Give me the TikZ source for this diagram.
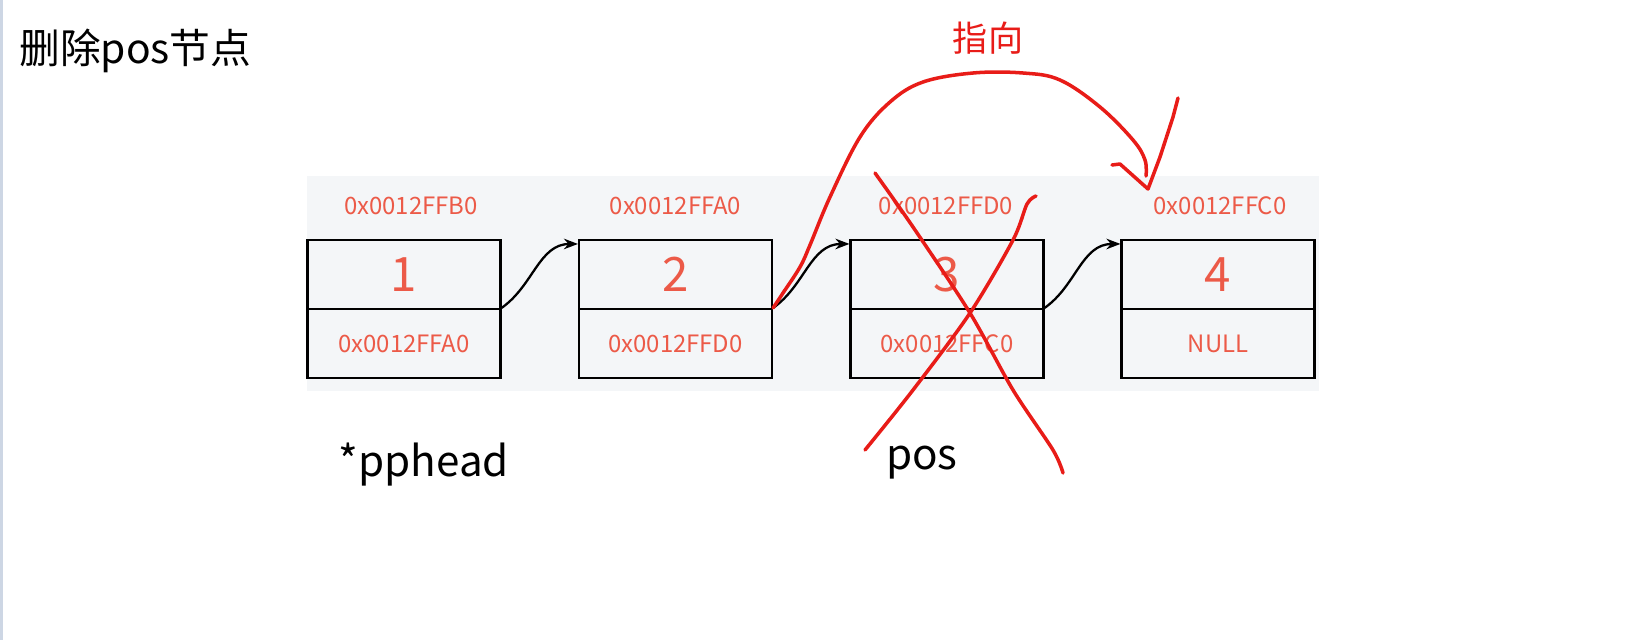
\documentclass[tikz,border=0pt]{standalone}
\usepackage{fontspec}
\setmainfont{Noto Sans CJK SC}
\usetikzlibrary{arrows.meta}
\definecolor{memred}{RGB}{236,90,72}
\definecolor{penred}{RGB}{232,28,24}
\definecolor{panelgray}{RGB}{244,246,248}
\definecolor{edgebar}{RGB}{205,214,228}
\begin{document}
\begin{tikzpicture}[x=0.02cm, y=-0.02cm, every node/.style={inner sep=0pt},
  cell/.style={draw=black, line width=1.2pt, minimum width=3.86cm, minimum height=1.38cm, text=memred},
  addr/.style={text=memred, font=\fontsize{13.6}{16}\selectfont},
  link/.style={-{Stealth[length=8pt,width=6pt]}, line width=1.3pt},
  pen/.style={penred, line width=2pt, line cap=round, line join=round}]
\useasboundingbox (0,0) rectangle (1645,640);
\fill[edgebar] (0,0) rectangle (3,640);
\fill[panelgray] (307,176) rectangle (1319,391);
\node[anchor=base west, font=\fontsize{23.2}{28}\selectfont] (title) at (19,63) {删除pos节点};
% the four list nodes
\foreach \i/\x/\lx/\addrtop/\addrnxt in {1/404/411/0x0012FFB0/0x0012FFA0,2/675.5/675.5/0x0012FFA0/0x0012FFD0,3/947/946/0x0012FFD0/0x0012FFC0,4/1218/1220/0x0012FFC0/NULL} {
  \node[cell, font=\fontsize{27}{30}\selectfont] (v\i) at (\x,274.5) {\i};
  \node[cell, addr] (p\i) at (\x,343.5) {\addrnxt};
  \node[addr] (a\i) at (\lx,206) {\addrtop};
}
\foreach \i/\j in {1/2,2/3,3/4} \draw[link] (p\i.north east) to[out=35,in=180] ([yshift=-0.1cm]v\j.north west);
\node[anchor=base, font=\fontsize{24}{28}\selectfont] (head) at (424,476) {*pphead};
\node[anchor=base, font=\fontsize{24}{28}\selectfont] (pos) at (922,469) {pos};
% hand-drawn notes
\node[text=penred, font=\fontsize{20}{24}\selectfont] (hint) at (988,38) {指向};
\draw[pen] plot[smooth, tension=0.6] coordinates {(p2.north east) (783,293) (800,267) (810,245) (830,197) (860,137) (890,102) (923,82) (973,73) (1023,73) (1060,80) (1100,107) (1133,140) (1145,160) (1146,176)};
\draw[pen] (1112,165) -- (1120,164) -- (1148,189) -- (1160,157) -- (1173,117) -- (1178,98);
\draw[pen] plot[smooth] coordinates {(875,173) (913,227) (970,313) (1013,390) (1053,450) (1063,473)};
\draw[pen] plot[smooth] coordinates {(1036,196) (1027,204) (1013,240) (970,313) (913,390) (865,450)};
\end{tikzpicture}
\end{document}
